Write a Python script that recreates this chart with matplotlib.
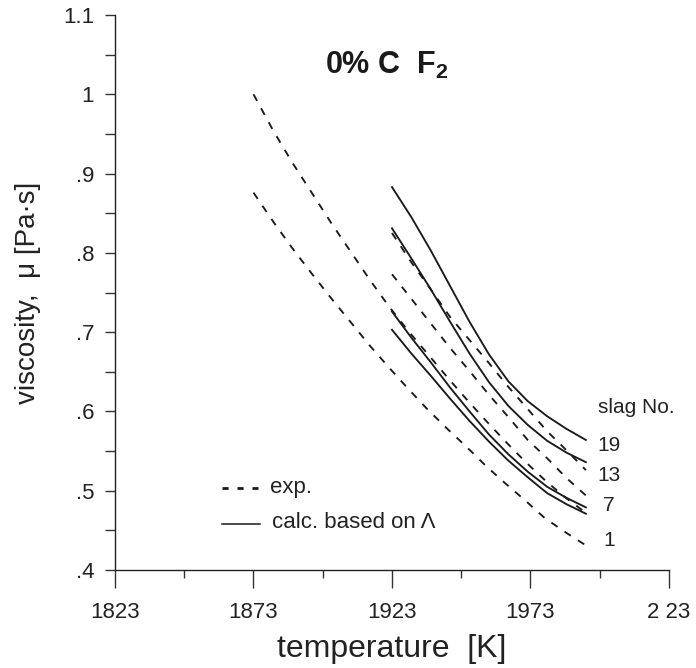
import matplotlib
matplotlib.use('Agg')
import matplotlib.pyplot as plt
from matplotlib.ticker import MultipleLocator, FixedLocator, FixedFormatter
from matplotlib.lines import Line2D

plt.rcParams['font.family'] = ['Liberation Sans', 'DejaVu Sans']
plt.rcParams['mathtext.fontset'] = 'custom'
plt.rcParams['mathtext.rm'] = 'Liberation Sans'
plt.rcParams['mathtext.bf'] = 'Liberation Sans:bold'

# experimental curves that start at 1873 K
t_long = [1873, 1880, 1887, 1894, 1901, 1908, 1915, 1922, 1929,
          1936, 1943, 1950, 1957, 1964, 1971, 1978, 1985, 1993]
exp_a = [1.000, 0.955, 0.914, 0.876, 0.838, 0.802, 0.766, 0.732, 0.701,
         0.672, 0.643, 0.615, 0.588, 0.562, 0.537, 0.514, 0.493, 0.472]
exp_b = [0.876, 0.840, 0.806, 0.774, 0.743, 0.713, 0.683, 0.655, 0.628,
         0.602, 0.578, 0.555, 0.531, 0.509, 0.488, 0.466, 0.449, 0.431]

# curves that start at 1923 K
t_short = [1923, 1930, 1937, 1944, 1951, 1958, 1965, 1972, 1979, 1986, 1993]
exp_c = [0.825, 0.788, 0.754, 0.719, 0.690, 0.661, 0.631, 0.603, 0.575, 0.551, 0.526]
exp_d = [0.773, 0.742, 0.711, 0.680, 0.651, 0.621, 0.593, 0.564, 0.541, 0.516, 0.494]
calc_1 = [0.883, 0.845, 0.803, 0.758, 0.713, 0.672, 0.638, 0.613, 0.594, 0.578, 0.564]
calc_2 = [0.831, 0.793, 0.754, 0.713, 0.673, 0.637, 0.607, 0.583, 0.563, 0.548, 0.536]
calc_3 = [0.726, 0.693, 0.662, 0.630, 0.600, 0.571, 0.546, 0.524, 0.505, 0.491, 0.479]
calc_4 = [0.703, 0.673, 0.645, 0.616, 0.588, 0.562, 0.538, 0.517, 0.497, 0.483, 0.471]

slag_labels = ['19', '13', '7', '1']
slag_label_y = [0.557, 0.519, 0.481, 0.437]

x_ticks = [1823, 1873, 1923, 1973, 2023]
x_minor = [1848, 1898, 1948, 1998]
x_ticklabels = ['1823', '1873', '1923', '1973', '2 23']
y_ticks = [0.4, 0.5, 0.6, 0.7, 0.8, 0.9, 1.0, 1.1]
y_ticklabels = ['.4', '.5', '.6', '.7', '.8', '.9', '1', '1.1']

fig = plt.figure(figsize=(6.96, 6.68), dpi=100)
ax = fig.add_axes([0.1652, 0.1467, 0.796, 0.8308])

ink = '#1a1a1a'
dash = (0, (4.0, 4.5))
lw = 1.35
for ys in [exp_a, exp_b]:
    ax.plot(t_long, ys, color=ink, lw=lw, linestyle=dash)
for ys in [exp_c, exp_d]:
    ax.plot(t_short, ys, color=ink, lw=lw, linestyle=dash)
for ys in [calc_1, calc_2, calc_3, calc_4]:
    ax.plot(t_short, ys, color=ink, lw=lw)

ax.set_xlim(1823, 2023)
ax.set_ylim(0.4, 1.1)

ax.xaxis.set_major_locator(FixedLocator(x_ticks))
ax.xaxis.set_major_formatter(FixedFormatter(x_ticklabels))
ax.xaxis.set_minor_locator(FixedLocator(x_minor))
ax.yaxis.set_major_locator(FixedLocator(y_ticks))
ax.yaxis.set_major_formatter(FixedFormatter(y_ticklabels))
ax.yaxis.set_minor_locator(MultipleLocator(0.05))

for s in ['top', 'right']:
    ax.spines[s].set_visible(False)
for s in ['left', 'bottom']:
    ax.spines[s].set_linewidth(1.0)
    ax.spines[s].set_color('#222222')

ax.tick_params(axis='x', which='major', direction='out', length=13, width=1, pad=10,
               labelsize=16, color='#333333', labelcolor='#222222')
ax.tick_params(axis='x', which='minor', direction='out', length=6, width=1, color='#333333')
ax.tick_params(axis='y', which='both', direction='out', length=7, width=1, pad=8,
               labelsize=16, color='#333333', labelcolor='#222222')

ax.set_xlabel('temperature  [K]', fontsize=23, color='#222222', labelpad=8)
ax.set_ylabel('viscosity,  \u03bc [Pa\u00b7s]', fontsize=20, color='#222222', labelpad=16)

ax.text(0.491, 0.91, r'0% C  F$_{\mathbf{2}}$', transform=ax.transAxes,
        fontsize=22, fontweight='bold', ha='center', va='center', color=ink)

# legend drawn by hand
ax.add_line(Line2D([0.193, 0.258], [0.148, 0.148], transform=ax.transAxes,
                   color=ink, lw=2, linestyle=(0, (2.2, 3.2))))
ax.text(0.28, 0.148, 'exp.', transform=ax.transAxes, fontsize=16,
        ha='left', va='center', color='#222222')
ax.add_line(Line2D([0.193, 0.262], [0.083, 0.083], transform=ax.transAxes,
                   color=ink, lw=1.1))
ax.text(0.284, 0.086, 'calc. based on \u039b', transform=ax.transAxes, fontsize=16,
        ha='left', va='center', color='#222222')

ax.text(1997.4, 0.605, 'slag No.', fontsize=15, ha='left', va='center',
        color='#222222', clip_on=False)
for lab, yv in zip(slag_labels, slag_label_y):
    ax.text(2001.3, yv, lab, fontsize=15, ha='center', va='center',
            color='#222222', clip_on=False)

fig.savefig('out.png', dpi=100)
